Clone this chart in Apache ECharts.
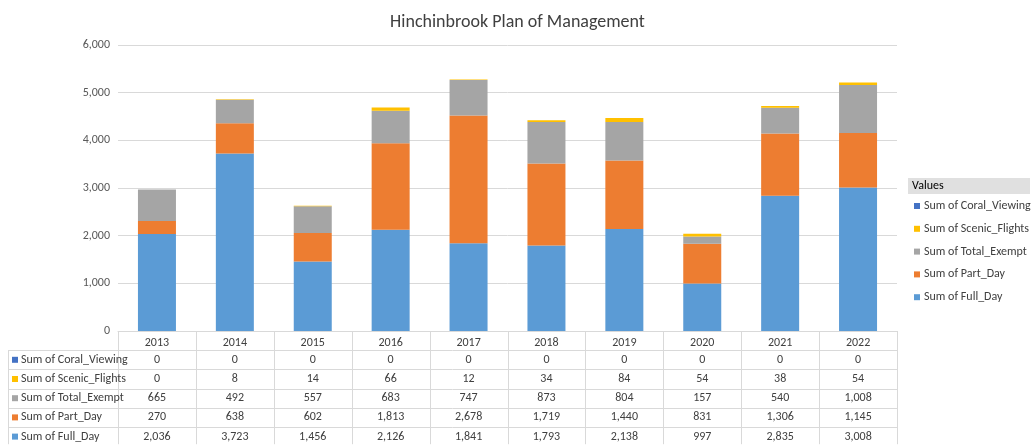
<!DOCTYPE html>
<html><head><meta charset="utf-8">
<script src="https://cdn.jsdelivr.net/npm/echarts@6/dist/echarts.min.js"></script>
<style>html,body{margin:0;padding:0;background:#fff}#c{width:1035px;height:445px}</style>
</head><body><div id="c"></div>
<script>
const years = ['2013','2014','2015','2016','2017','2018','2019','2020','2021','2022'];
const coralViewing = [0,0,0,0,0,0,0,0,0,0];
const scenicFlights = [0,8,14,66,12,34,84,54,38,54];
const totalExempt = [665,492,557,683,747,873,804,157,540,1008];
const partDay = [270,638,602,1813,2678,1719,1440,831,1306,1145];
const fullDay = [2036,3723,1456,2126,1841,1793,2138,997,2835,3008];
const yTicks = [0,1000,2000,3000,4000,5000,6000];

const seriesDefs = [
  {name:'Sum of Full_Day', data:fullDay, color:'#5B9BD5'},
  {name:'Sum of Part_Day', data:partDay, color:'#ED7D31'},
  {name:'Sum of Total_Exempt', data:totalExempt, color:'#A5A5A5'},
  {name:'Sum of Scenic_Flights', data:scenicFlights, color:'#FFC000'},
  {name:'Sum of Coral_Viewing', data:coralViewing, color:'#4472C4'}
];
const FONT = 'Calibri, Carlito, "Liberation Sans", sans-serif';
const chart = echarts.init(document.getElementById('c'));
const fmt = v => v.toLocaleString('en-US');
chart.setOption({
  animation:false,
  title:{text:'Hinchinbrook Plan of Management', left:'center', top:8,
    textStyle:{fontFamily:FONT, fontSize:18, fontWeight:'normal', color:'#404040'}},
  grid:{left:118, right:138, top:45, bottom:114},
  xAxis:{type:'category', data:years,
    axisLine:{lineStyle:{color:'#d9d9d9'}}, axisTick:{show:false},
    axisLabel:{color:'#404040', fontFamily:FONT, fontSize:12, margin:6}},
  yAxis:{type:'value', min:0, max:6000, interval:1000,
    axisLabel:{color:'#595959', fontFamily:FONT, fontSize:12, formatter:v=>fmt(v)},
    splitLine:{lineStyle:{color:'#d9d9d9'}}},
  series: seriesDefs.map(s=>({type:'bar', name:s.name, stack:'a', data:s.data,
    itemStyle:{color:s.color}, barWidth:38}))
});
const g = [];
const lineC = '#d9d9d9';
const x0 = 8, xL = 118, xR = 897, yTop = 331, rowH = 19.2;
const colW = (xR-xL)/years.length;
const rows = [
  {name:'Sum of Coral_Viewing', data:coralViewing, color:'#4472C4'},
  {name:'Sum of Scenic_Flights', data:scenicFlights, color:'#FFC000'},
  {name:'Sum of Total_Exempt', data:totalExempt, color:'#A5A5A5'},
  {name:'Sum of Part_Day', data:partDay, color:'#ED7D31'},
  {name:'Sum of Full_Day', data:fullDay, color:'#5B9BD5'}
];
const yEnd = yTop + rowH*(rows.length+1) - 2;
for (let i=0;i<=years.length;i++){
  const x = Math.round(xL+i*colW)+0.5;
  g.push({type:'line', shape:{x1:x,y1:yTop,x2:x,y2:yEnd}, style:{stroke:lineC}});
}
g.push({type:'line', shape:{x1:x0+0.5,y1:yTop+rowH,x2:x0+0.5,y2:yEnd}, style:{stroke:lineC}});
for (let r=0;r<=rows.length;r++){
  const y = Math.round(yTop+rowH*(r+1))+0.5;
  g.push({type:'line', shape:{x1:x0,y1:y,x2:xR,y2:y}, style:{stroke:lineC}});
}
rows.forEach((row,r)=>{
  const yc = yTop+rowH*(r+1.5);
  g.push({type:'rect', shape:{x:x0+4,y:yc-3,width:6,height:6}, style:{fill:row.color}});
  g.push({type:'text', x:x0+13, y:yc, style:{text:row.name, fill:'#404040', font:'12px '+FONT, verticalAlign:'middle'}});
  row.data.forEach((v,i)=>{
    g.push({type:'text', x:xL+colW*(i+0.5), y:yc, style:{text:fmt(v), fill:'#404040', font:'12px '+FONT, align:'center', verticalAlign:'middle'}});
  });
});
// legend
g.push({type:'rect', shape:{x:908,y:178,width:122,height:16}, style:{fill:'#e0e0e0'}});
g.push({type:'text', x:912, y:186, style:{text:'Values', fill:'#000', font:'12px '+FONT, verticalAlign:'middle'}});
rows.forEach((row,r)=>{
  const yc = 206 + r*22.8;
  g.push({type:'rect', shape:{x:914,y:yc-3,width:6,height:6}, style:{fill:row.color}});
  g.push({type:'text', x:924, y:yc, style:{text:row.name, fill:'#404040', font:'12px '+FONT, verticalAlign:'middle'}});
});
chart.setOption({graphic:g});
</script></body></html>
